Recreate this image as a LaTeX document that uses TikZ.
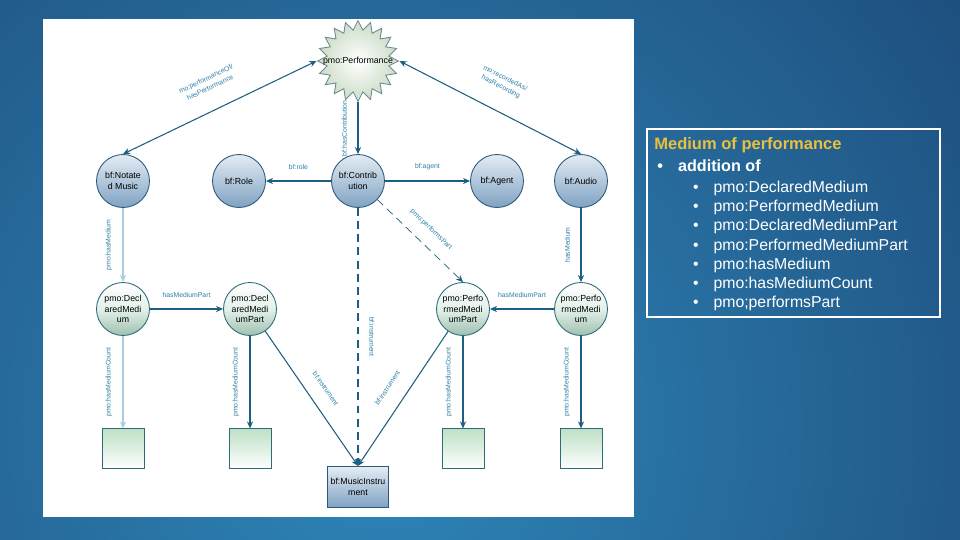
\documentclass[tikz,border=0pt]{standalone}
\usepackage{fontspec}
\setmainfont{Liberation Sans}
\usetikzlibrary{arrows.meta, positioning, shapes.geometric, calc}

\definecolor{bgdark}{HTML}{142D5A}
\definecolor{bglight}{HTML}{2F88BB}
\definecolor{linkblue}{HTML}{1D5F80}
\definecolor{linklight}{HTML}{A6CDE0}
\definecolor{labelblue}{HTML}{2C80A8}
\definecolor{nodeline}{HTML}{2D5A7C}
\definecolor{mediumline}{HTML}{2F6C78}
\definecolor{bluetop}{HTML}{E4ECF4}
\definecolor{bluebot}{HTML}{7FA2C2}
\definecolor{greenmid}{HTML}{E3F1EA}
\definecolor{greenbot}{HTML}{9FC0B0}
\definecolor{squaretop}{HTML}{BFE0C6}
\definecolor{stargreen}{HTML}{CBDCC6}
\definecolor{starline}{HTML}{6E8A8E}
\definecolor{titlegold}{HTML}{EBC03E}

\begin{document}
\begin{tikzpicture}[
    x=0.02cm, y=-0.02cm,
    class/.style={circle, draw=nodeline, line width=0.5pt, minimum size=1.06cm, inner sep=0pt, align=center, font=\fontsize{5}{6}\selectfont, top color=bluetop, bottom color=bluebot},
    medium/.style={class, draw=mediumline, top color=white, bottom color=greenbot, middle color=greenmid},
    count/.style={rectangle, draw=mediumline, line width=0.5pt, minimum width=0.84cm, minimum height=0.8cm, top color=squaretop, bottom color=white},
    instrument/.style={rectangle, draw=nodeline, line width=0.7pt, minimum width=1.22cm, minimum height=0.82cm, inner sep=0pt, align=center, font=\fontsize{5}{6.2}\selectfont, top color=bluetop, bottom color=bluebot},
    event/.style={star, star points=20, star point ratio=1.3, minimum size=1.62cm, inner sep=0pt, draw=starline, line width=0.5pt, inner color=white, outer color=stargreen},
    link/.style={draw=linkblue, line width=0.6pt, -{Stealth[length=4pt, width=3.5pt]}},
    twoway/.style={link, {Stealth[length=4pt, width=3.5pt]}-{Stealth[length=4pt, width=3.5pt]}},
    faint/.style={link, draw=linklight},
    dashlink/.style={link, dash pattern=on 4.5pt off 3pt},
    tag/.style={font=\fontsize{3.9}{5.4}\selectfont, text=labelblue, inner sep=6pt, align=center},
    uptag/.style={tag, rotate=90, anchor=south},
    downtag/.style={tag, rotate=-90, anchor=south},
    slide/.style={font=\fontsize{9}{11}\selectfont, text=white, anchor=base west, inner sep=0pt}
]

% Slide background
\useasboundingbox (0,0) rectangle (960,540);
\begin{scope}
\clip (0,0) rectangle (960,540);
\shade[inner color=bglight, outer color=bgdark] (380,420) circle (23cm);
\end{scope}

% White panel
\fill[white] (43,19) rectangle (634,517);

% pmo:Performance
\node[event, label={[font=\fontsize{5}{6}\selectfont]center:pmo:Performance}] (perf) at (358,61) {};

% BIBFRAME classes
\node[class] (notated) at (123,181) {bf:Notate\\d Music};
\node[class] (role) at (239,181) {bf:Role};
\node[class] (contrib) at (358,181) {bf:Contrib\\ution};
\node[class] (agent) at (497,181) {bf:Agent};
\node[class] (audio) at (581,181) {bf:Audio};

% Medium classes
\node[medium] (declared) at (123,309) {pmo:Decl\\aredMedi\\um};
\node[medium] (declaredpart) at (250,309) {pmo:Decl\\aredMedi\\umPart};
\node[medium] (performedpart) at (463,309) {pmo:Perfo\\rmedMedi\\umPart};
\node[medium] (performed) at (581,309) {pmo:Perfo\\rmedMedi\\um};

% Medium counts
\node[count, below=1.85cm of declared] (declaredcount) {};
\node[count, below=1.85cm of declaredpart] (declaredpartcount) {};
\node[count, below=1.85cm of performedpart] (performedpartcount) {};
\node[count, below=1.85cm of performed] (performedcount) {};

% bf:MusicInstrument
\node[instrument] (instr) at (358,487) {bf:MusicInstru\\ment};

% Connections
\draw[twoway] (perf.west) -- node[tag, midway, sloped, above=5pt] {mo:performanceOf/\\hasPerformance} (notated.north);
\draw[twoway] (perf.east) -- node[tag, midway, sloped, above=5pt] {mo:recordedAs/\\hasRecording} (audio.north);
\draw[link] (perf) -- node[uptag, midway] {bf:hasContribution} (contrib);
\draw[link] (contrib) -- node[tag, midway, above] {bf:role} (role);
\draw[link] (contrib) -- node[tag, midway, above] {bf:agent} (agent);
\draw[faint] (notated) -- node[uptag, midway] {pmo:hasMedium} (declared);
\draw[link] (audio) -- node[uptag, midway] {hasMedium} (performed);
\draw[link] (declared) -- node[tag, midway, above] {hasMediumPart} (declaredpart);
\draw[link] (performed) -- node[tag, midway, above] {hasMediumPart} (performedpart);
\draw[dashlink, line width=0.4pt] (contrib) -- node[tag, midway, sloped, above=1pt] {pmo:performsPart} (performedpart.north);
\draw[dashlink, line width=0.9pt] (contrib) -- node[downtag, midway] {bf:instrument} (instr);
\draw[link] (declaredpart) -- node[tag, midway, sloped, above=2pt] {bf:instrument} (instr.north);
\draw[link] (performedpart) -- node[tag, midway, sloped, above=3pt] {bf:instrument} (instr.north);
\draw[faint] (declared) -- node[uptag, midway] {pmo:hasMediumCount} (declaredcount);
\draw[link] (declaredpart) -- node[uptag, midway] {pmo:hasMediumCount} (declaredpartcount);
\draw[link] (performedpart) -- node[uptag, midway] {pmo:hasMediumCount} (performedpartcount);
\draw[link] (performed) -- node[uptag, midway] {pmo:hasMediumCount} (performedcount);

% Slide text
\draw[white, line width=1.2pt] (647,129) rectangle (940,317);
\node[slide, font=\fontsize{9.4}{11}\selectfont\bfseries, text=titlegold] (title) at (654,150) {Medium of performance};
\node[slide, font=\fontsize{9.2}{11}\selectfont\bfseries] (addition) at (657,171.7) {\makebox[0.414cm][l]{•}addition of};
\node[slide] (item1) at (692.7,192.5) {\makebox[0.41cm][l]{•}pmo:DeclaredMedium};
\node[slide] (item2) at (692.7,211.7) {\makebox[0.41cm][l]{•}pmo:PerformedMedium};
\node[slide] (item3) at (692.7,230.9) {\makebox[0.41cm][l]{•}pmo:DeclaredMediumPart};
\node[slide] (item4) at (692.7,250.1) {\makebox[0.41cm][l]{•}pmo:PerformedMediumPart};
\node[slide] (item5) at (692.7,269.3) {\makebox[0.41cm][l]{•}pmo:hasMedium};
\node[slide] (item6) at (692.7,288.5) {\makebox[0.41cm][l]{•}pmo:hasMediumCount};
\node[slide] (item7) at (692.7,307.7) {\makebox[0.41cm][l]{•}pmo;performsPart};

\end{tikzpicture}
\end{document}
